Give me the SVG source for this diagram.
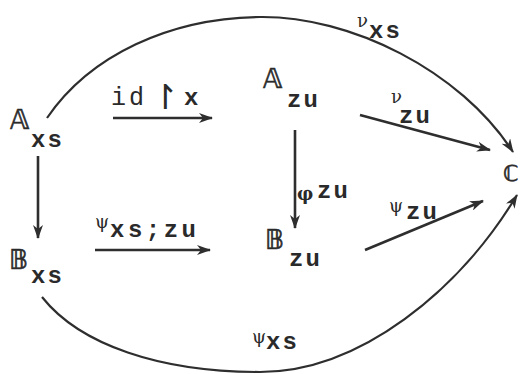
<svg xmlns="http://www.w3.org/2000/svg" width="521" height="374" viewBox="0 0 521 374">
<defs>
<marker id="ah" viewBox="0 0 14 10" refX="13" refY="5" markerWidth="14" markerHeight="10" markerUnits="userSpaceOnUse" orient="auto">
<path d="M0,0 L14,5 L0,10 L4,5 Z" fill="#2e2e2e"/>
</marker>
<style>
.e{fill:none;stroke:#2e2e2e;stroke-width:2.6;marker-end:url(#ah)}
.c{fill:none;stroke:#2e2e2e;stroke-width:2.2;marker-end:url(#ah)}
.big{font-family:"DejaVu Sans",sans-serif;font-size:26px;fill:#2a2a2a;stroke:#2a2a2a;stroke-width:0.6}
.sub{font-family:"Liberation Mono",monospace;font-weight:bold;font-size:24px;letter-spacing:2px;fill:#2a2a2a}
.lab{font-family:"Liberation Mono",monospace;font-size:25px;letter-spacing:3px;fill:#2a2a2a}
.gr{font-family:"DejaVu Serif",serif;font-size:18px;fill:#2a2a2a}
</style>
</defs>
<rect width="521" height="374" fill="#ffffff"/>
<g id="connectors">
<path id="e-nuxs" class="c" d="M47,118 C90,55 170,18 260,17 C350,16 460,70 513,152"/>
<path id="e-psixs" class="c" d="M42,297 C80,345 160,372 260,372 C360,372 460,290 517,195"/>
<path id="e-idx" class="e" d="M113,118 L212,118"/>
<path id="e-AB" class="e" d="M38,156 L38,238"/>
<path id="e-psixszu" class="e" d="M95,250 L210,250"/>
<path id="e-phi" class="e" d="M295,130 L295,228"/>
<path id="e-nuzu" class="e" d="M360,115 L490,150"/>
<path id="e-psizu" class="e" d="M365,250 L483,201"/>
</g>
<g id="A_xs"><text class="big" x="10" y="129">𝔸</text><text class="sub" x="31" y="147">xs</text></g>
<g id="A_zu"><text class="big" x="263" y="88">𝔸</text><text class="sub" x="287" y="107">zu</text></g>
<g id="B_xs"><text class="big" x="9" y="269">𝔹</text><text class="sub" x="31" y="283">xs</text></g>
<g id="B_zu"><text class="big" x="265" y="249">𝔹</text><text class="sub" x="289" y="266">zu</text></g>
<g id="C"><text class="big" x="503" y="181" style="font-size:22px">ℂ</text></g>
<g id="labels">
<text class="lab" x="111" y="105">id</text>
<text class="lab" x="151" y="109" style="font-family:'DejaVu Sans',sans-serif;font-size:34px;letter-spacing:0">↾</text>
<text class="sub" x="184" y="105">x</text>
<text class="gr" x="357" y="27">ν</text><text class="sub" x="369" y="38">xs</text>
<text class="gr" x="391" y="103">ν</text><text class="sub" x="399" y="123">zu</text>
<text class="gr" x="297" y="200" font-weight="bold" font-size="19">φ</text><text class="sub" x="317" y="198">zu</text>
<text class="gr" x="389" y="212" font-size="12">ψ</text><text class="sub" x="406" y="219">zu</text>
<text class="gr" x="95" y="228">ψ</text><text class="sub" x="110" y="237" style="letter-spacing:3.5px">xs;zu</text>
<text class="gr" x="252" y="343">ψ</text><text class="sub" x="266" y="349">xs</text>
</g>
</svg>
